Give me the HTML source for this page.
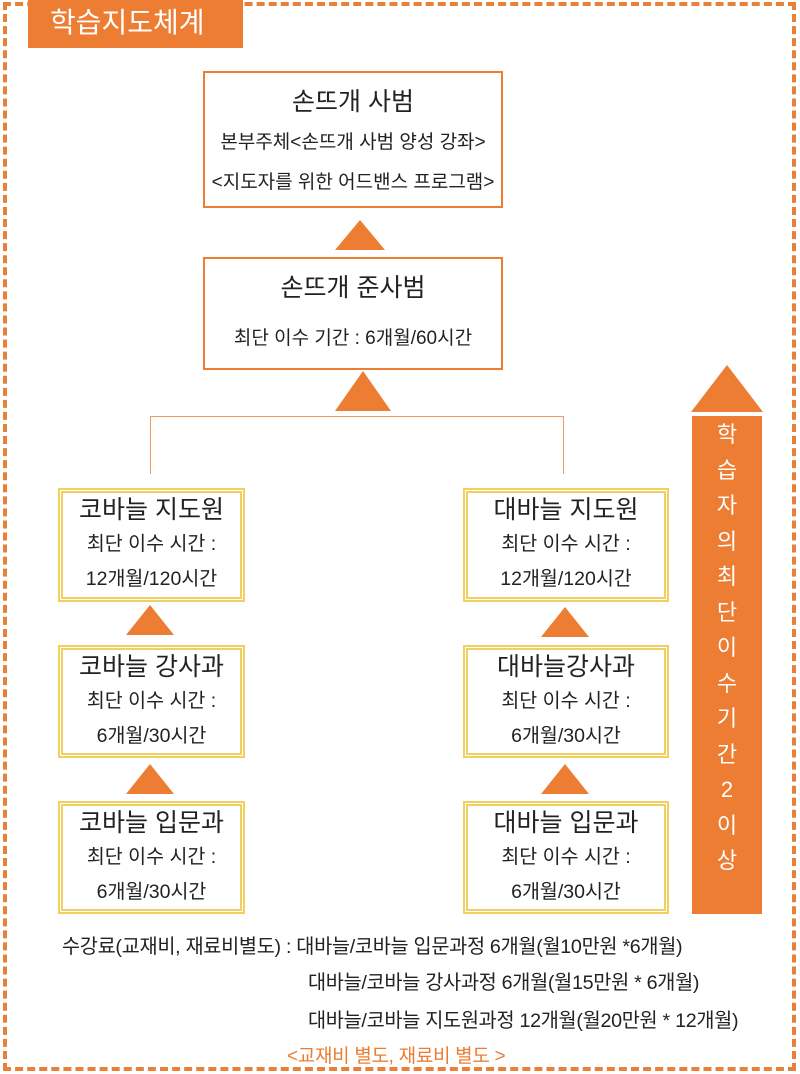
<!DOCTYPE html>
<html><head><meta charset="utf-8"><style>
*{margin:0;padding:0;box-sizing:border-box}
body{width:800px;height:1074px;position:relative;background:#fff;font-family:"Liberation Sans","Noto Sans CJK KR","NanumGothic",sans-serif;color:#222;overflow:hidden}
.a{position:absolute}
.frame{left:3px;top:2px;width:793px;height:1069px;border:4px dashed #e8803a}
.tab{left:28px;top:0;width:215px;height:48px;background:#ec7d32;color:#fff;font-size:28px;line-height:46px;padding-left:22px}
.ob{border:2px solid #ec7d32;background:#fff;text-align:center}
.yb{border:5px double #f2d060;background:#fff;text-align:center;white-space:nowrap}
.t{font-size:25px;line-height:34px}
.s{font-size:19.5px;line-height:35px}
.tri{width:0;height:0;border-left:24px solid transparent;border-right:24px solid transparent;border-bottom:30px solid #ec7d32}
.bt{font-size:19.7px;white-space:nowrap;letter-spacing:-0.3px}
</style></head><body>
<div class="a frame"></div>
<div class="a tab">학습지도체계</div>

<div class="a ob" style="left:203px;top:71px;width:300px;height:137px;padding-top:12px;white-space:nowrap">
<div class="t">손뜨개 사범</div>
<div class="s" style="line-height:48px;font-size:19px">본부주체&lt;손뜨개 사범 양성 강좌&gt;</div>
<div class="s" style="line-height:32px;font-size:19px">&lt;지도자를 위한 어드밴스 프로그램&gt;</div>
</div>
<div class="a tri" style="left:335px;top:220px;border-left-width:25px;border-right-width:25px"></div>
<div class="a ob" style="left:203px;top:257px;width:300px;height:113px;padding-top:12px;white-space:nowrap">
<div class="t">손뜨개 준사범</div>
<div class="s" style="line-height:68px;font-size:19px">최단 이수 기간 : 6개월/60시간</div>
</div>
<div class="a tri" style="left:335px;top:371px;border-left-width:28px;border-right-width:28px;border-bottom-width:40px"></div>

<div class="a" style="left:150px;top:416px;width:414px;height:1px;background:#ec9a62"></div>
<div class="a" style="left:150px;top:416px;width:1px;height:58px;background:#ec9a62"></div>
<div class="a" style="left:563px;top:416px;width:1px;height:58px;background:#ec9a62"></div>

<!-- left column -->
<div class="a yb" style="left:58px;top:488px;width:187px;height:114px;padding-top:0"><div class="t">코바늘 지도원</div><div class="s">최단 이수 시간 :</div><div class="s">12개월/120시간</div></div>
<div class="a tri" style="left:126px;top:605px"></div>
<div class="a yb" style="left:58px;top:645px;width:187px;height:113px;padding-top:0"><div class="t">코바늘 강사과</div><div class="s">최단 이수 시간 :</div><div class="s">6개월/30시간</div></div>
<div class="a tri" style="left:126px;top:764px"></div>
<div class="a yb" style="left:58px;top:801px;width:187px;height:113px;padding-top:0"><div class="t">코바늘 입문과</div><div class="s">최단 이수 시간 :</div><div class="s">6개월/30시간</div></div>

<!-- right column -->
<div class="a yb" style="left:463px;top:488px;width:206px;height:114px;padding-top:0"><div class="t">대바늘 지도원</div><div class="s">최단 이수 시간 :</div><div class="s">12개월/120시간</div></div>
<div class="a tri" style="left:541px;top:607px"></div>
<div class="a yb" style="left:463px;top:645px;width:206px;height:113px;padding-top:0"><div class="t">대바늘강사과</div><div class="s">최단 이수 시간 :</div><div class="s">6개월/30시간</div></div>
<div class="a tri" style="left:541px;top:764px"></div>
<div class="a yb" style="left:463px;top:801px;width:206px;height:113px;padding-top:0"><div class="t">대바늘 입문과</div><div class="s">최단 이수 시간 :</div><div class="s">6개월/30시간</div></div>

<!-- arrow -->
<div class="a" style="left:691px;top:365px;width:0;height:0;border-left:36px solid transparent;border-right:36px solid transparent;border-bottom:47px solid #ec7d32"></div>
<div class="a" style="left:692px;top:416px;width:70px;height:498px;background:#ec7d32;color:#fff;font-size:22px;text-align:center;line-height:35.5px;padding-top:1px">학<br>습<br>자<br>의<br>최<br>단<br>이<br>수<br>기<br>간<br>2<br>이<br>상</div>

<div class="a bt" style="left:62px;top:930px">수강료(교재비, 재료비별도) : 대바늘/코바늘 입문과정 6개월(월10만원 *6개월)</div>
<div class="a bt" style="left:308px;top:966px">대바늘/코바늘 강사과정 6개월(월15만원 * 6개월)</div>
<div class="a bt" style="left:308px;top:1004px">대바늘/코바늘 지도원과정 12개월(월20만원 * 12개월)</div>
<div class="a bt" style="left:287px;top:1041px;color:#ec7d32;font-size:19px">&lt;교재비 별도, 재료비 별도 &gt;</div>
</body></html>
